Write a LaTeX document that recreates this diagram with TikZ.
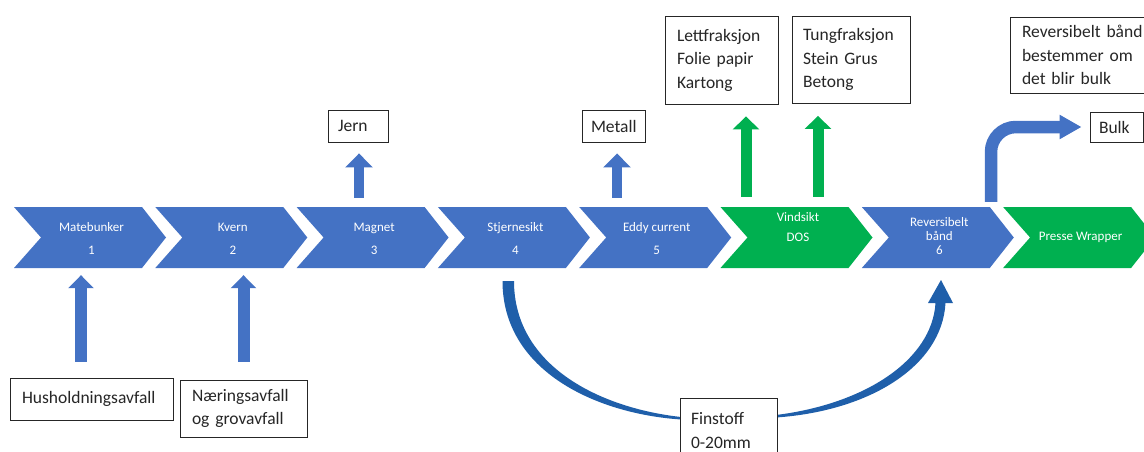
\documentclass[tikz,border=0pt]{standalone}
\usepackage{fontspec}
\setmainfont{Carlito}
\usetikzlibrary{arrows.meta,calc}
\definecolor{obl}{HTML}{4472C4}
\definecolor{ogr}{HTML}{00B050}
\definecolor{cur}{HTML}{1F5FAA}
\definecolor{txt}{HTML}{262626}
\newcommand\mychev[3]{% name, left x, colour
  \fill[#3] (#2,207) -- ++(128,0) -- ++(24,30.5) -- ++(-24,30.5) -- ++(-128,0) -- ++(27,-30.5) -- cycle;
  \node[chevbody] (#1) at (#2+77.5,237.5) {};
}
\begin{document}
\begin{tikzpicture}[x=1pt,y=-1pt,
  chevbody/.style={minimum width=100pt,minimum height=61pt,inner sep=0pt},
  chevtext/.style={text=white,align=center,inner sep=0pt},
  infobox/.style={draw=black!85,line width=0.9pt,fill=white,text=txt,
    font=\fontsize{17.5}{23.5}\selectfont,align=left,inner sep=0pt},
  barrowA/.style={obl,line width=12pt,-{Triangle[width=25pt,length=13pt]}},
  barrowB/.style={obl,line width=10pt,-{Triangle[width=27pt,length=14pt]}},
  barrowG/.style={ogr,line width=11pt,-{Triangle[width=26pt,length=13pt]}}
]
\useasboundingbox (0,0) rectangle (1144,452);
\clip (0,0) rectangle (1144,452);

% chevrons
\mychev{c1}{14}{obl}
\mychev{c2}{155.3}{obl}
\mychev{c3}{296.6}{obl}
\mychev{c4}{437.9}{obl}
\mychev{c5}{579.2}{obl}
\mychev{c6}{720.5}{ogr}
\mychev{c7}{861.8}{obl}
\mychev{c8}{1003.1}{ogr}

\node[chevtext,font=\fontsize{13}{23}\selectfont] (t1) at ($(c1.center)+(0,1)$) {Matebunker\\1};
\node[chevtext,font=\fontsize{13}{23}\selectfont] (t2) at ($(c2.center)+(0,1)$) {Kvern\\2};
\node[chevtext,font=\fontsize{13}{23}\selectfont] (t3) at ($(c3.center)+(0,1)$) {Magnet\\3};
\node[chevtext,font=\fontsize{13}{23}\selectfont] (t4) at ($(c4.center)+(0,1)$) {Stjernesikt\\4};
\node[chevtext,font=\fontsize{13}{23}\selectfont] (t5) at ($(c5.center)+(0,1)$) {Eddy current\\5};
\node[chevtext,font=\fontsize{13}{20}\selectfont] (t6) at ($(c6.center)+(0,-10.5)$) {Vindsikt\\DOS};
\node[chevtext,font=\fontsize{13}{14}\selectfont] (t7) at ($(c7.center)+(0,-1.5)$) {Reversibelt\\bånd\\6};
\node[chevtext,font=\fontsize{13}{14}\selectfont] (t8) at (c8.center) {Presse Wrapper};

% boxes
\node[infobox,minimum width=163pt,minimum height=42pt,text width=139pt] (hus) at (91.5,399) {Husholdningsavfall};
\node[infobox,minimum width=127pt,minimum height=57pt,text width=103pt] (naer) at (243.5,408.5) {Næringsavfall\\og grovavfall};
\node[infobox,minimum width=60pt,minimum height=32pt,text width=40pt] (jern) at (358,126) {Jern};
\node[infobox,minimum width=63pt,minimum height=32pt,text width=45pt] (metall) at (613.5,126) {Metall};
\node[infobox,minimum width=113pt,minimum height=88pt,text width=89pt] (lett) at (721.5,60) {Lettfraksjon\\Folie papir\\Kartong};
\node[infobox,minimum width=118pt,minimum height=87pt,text width=96pt] (tung) at (851,59.5) {Tungfraksjon\\Stein Grus\\Betong};
\node[infobox,minimum width=150pt,minimum height=76pt,text width=126pt] (rev) at (1085,55) {Reversibelt bånd\\bestemmer om\\det blir bulk};
\node[infobox,minimum width=53pt,minimum height=30pt,text width=35pt] (bulk) at (1116.5,127) {Bulk};

% up arrows
\coordinate (xh) at (81,0);
\coordinate (xj) at (359,0);
\coordinate (xm) at (617,0);
\coordinate (xl) at (746,0);
\coordinate (xt) at (818,0);
\coordinate (xb) at (991,0);
\draw[barrowA,shorten <=16pt,shorten >=7pt] (xh |- hus.north) -- (xh |- c1.south);
\draw[barrowA,shorten <=18pt,shorten >=7pt] (naer.north) -- (naer.north |- c2.south);
\draw[barrowB,shorten <=9pt,shorten >=11pt] (xj |- c3.north) -- (xj |- jern.south);
\draw[barrowB,shorten <=9pt,shorten >=11pt] (xm |- c5.north) -- (xm |- metall.south);
\draw[barrowG,shorten <=10pt,shorten >=12pt] (xl |- c6.north) -- (xl |- lett.south);
\draw[barrowG,shorten <=10pt,shorten >=12.5pt] (xt |- c6.north) -- (xt |- tung.south);

% bulk arrow
\draw[obl,line width=12.5pt,-{Triangle[width=23pt,length=22pt]},rounded corners=25pt,
      shorten <=5pt,shorten >=8pt] (xb |- c7.north) -- (xb |- bulk.west) -- (bulk.west);

% finstoff curved arrow (tapered)
\fill[cur] (502.5,281) .. controls (502.5,372) and (598,414) .. (681,419.5)
   -- (681,417) .. controls (600,408) and (514,366) .. (514,281) -- cycle;
\fill[cur] (776,417.5) .. controls (870,411) and (942,366) .. (945.5,303)
   -- (953,303) -- (941,280) -- (928,303) -- (935.5,303)
   .. controls (932,360) and (865,404) .. (776,415) -- cycle;
\node[infobox,minimum width=97pt,minimum height=65pt,text width=75pt] (fin) at (728.5,430.5) {Finstoff\\0-20mm};
\end{tikzpicture}
\end{document}
